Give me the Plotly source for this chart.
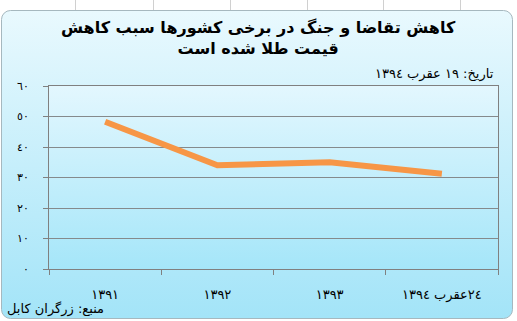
import base64
import plotly.graph_objects as go

# ---- data ----
categories = ["١٣٩١", "١٣٩٢", "١٣٩٣", "٢٤عقرب ١٣٩٤"]
values = [48.3, 34.0, 35.0, 31.2]
y_tickvals = [0, 10, 20, 30, 40, 50, 60]
y_ticktext = ["٠", "١٠", "٢٠", "٣٠", "٤٠", "٥٠", "٦٠"]
title_text = "کاهش تقاضا و جنگ در برخی کشورها سبب کاهش<br>قیمت طلا شده است"
date_text = "تاریخ: ١٩ عقرب ١٣٩٤"
source_text = "منبع: زرگران کابل"

W, H = 517, 321
ML, MR, MT, MB = 49, 19, 86, 52
PW, PH = W - ML - MR, H - MT - MB


def px_x(px):
    return (px - ML) / PW


def px_y(py):
    return 1 - (py - MT) / PH


# background (gradient rounded box) as an inline SVG image
svg = f'''<svg xmlns="http://www.w3.org/2000/svg" width="{W}" height="{H}" viewBox="0 0 {W} {H}">
<defs>
<linearGradient id="g" x1="0" y1="0" x2="0" y2="1">
<stop offset="0" stop-color="#e9f9fe"/>
<stop offset="1" stop-color="#a3e4f8"/>
</linearGradient>
<linearGradient id="p" x1="0" y1="0" x2="0" y2="1">
<stop offset="0" stop-color="#e3f7fe"/>
<stop offset="1" stop-color="#a5e6f9"/>
</linearGradient>
</defs>
<rect x="0" y="0" width="{W}" height="{H}" fill="#ffffff"/>
<g stroke="#d0d0d0" stroke-width="1">
<line x1="75.5" y1="0" x2="75.5" y2="10"/><line x1="153.5" y1="0" x2="153.5" y2="10"/>
<line x1="230.5" y1="0" x2="230.5" y2="10"/><line x1="307.5" y1="0" x2="307.5" y2="10"/>
<line x1="383.5" y1="0" x2="383.5" y2="10"/><line x1="460.5" y1="0" x2="460.5" y2="10"/>
</g>
<rect x="1.5" y="10.5" width="511" height="308" rx="9" ry="9" fill="url(#g)" stroke="#a6b8bf" stroke-width="1"/>
<rect x="{ML+1}" y="{MT+1}" width="{PW}" height="{PH}" fill="#7fb6c8" opacity="0.5"/>
<rect x="{ML}" y="{MT}" width="{PW}" height="{PH}" fill="url(#p)"/>
</svg>'''
img_src = "data:image/svg+xml;base64," + base64.b64encode(svg.encode("utf-8")).decode("ascii")

fig = go.Figure()
fig.add_trace(go.Scatter(
    x=categories, y=values, mode="lines",
    line=dict(color="#f79646", width=6),
    hoverinfo="skip", showlegend=False,
))

font_fam = "DejaVu Sans, Noto Sans, sans-serif"

fig.update_layout(
    width=W, height=H,
    margin=dict(l=ML, r=MR, t=MT, b=MB, pad=0),
    paper_bgcolor="#ffffff",
    plot_bgcolor="rgba(0,0,0,0)",
    showlegend=False,
    font=dict(family=font_fam, color="#000000"),
    images=[dict(
        source=img_src, xref="paper", yref="paper",
        x=px_x(0), y=px_y(0), sizex=W / PW, sizey=H / PH,
        xanchor="left", yanchor="top", sizing="stretch", layer="below",
    )],
    xaxis=dict(
        type="category", range=[-0.5, 3.5],
        tickson="boundaries", ticks="outside", ticklen=5, tickcolor="#808080",
        showgrid=False, showline=True, linecolor="#808080", linewidth=1,
        mirror=True, tickfont=dict(size=13, color="#000000"),
        ticklabelstandoff=13, fixedrange=True,
    ),
    yaxis=dict(
        range=[0, 60], tickvals=y_tickvals, ticktext=y_ticktext,
        ticks="outside", ticklen=5, tickcolor="#808080",
        showgrid=True, gridcolor="#858a8c", gridwidth=1,
        showline=True, linecolor="#808080", linewidth=1, mirror=True,
        zeroline=False, tickfont=dict(size=11, color="#000000"),
        ticklabelstandoff=12, fixedrange=True,
    ),
    annotations=[
        dict(text="<b>" + title_text + "</b>", xref="paper", yref="paper",
             x=px_x(258), y=px_y(38), xanchor="center", yanchor="middle",
             showarrow=False, align="center",
             font=dict(size=16, family=font_fam, color="#000000")),
        dict(text=date_text, xref="paper", yref="paper",
             x=px_x(496), y=px_y(74), xanchor="right", yanchor="middle",
             showarrow=False, font=dict(size=13, family=font_fam, color="#000000")),
        dict(text=source_text, xref="paper", yref="paper",
             x=px_x(5), y=px_y(309), xanchor="left", yanchor="middle",
             showarrow=False, font=dict(size=13, family=font_fam, color="#000000")),
    ],
)

fig.write_html("out.html")
